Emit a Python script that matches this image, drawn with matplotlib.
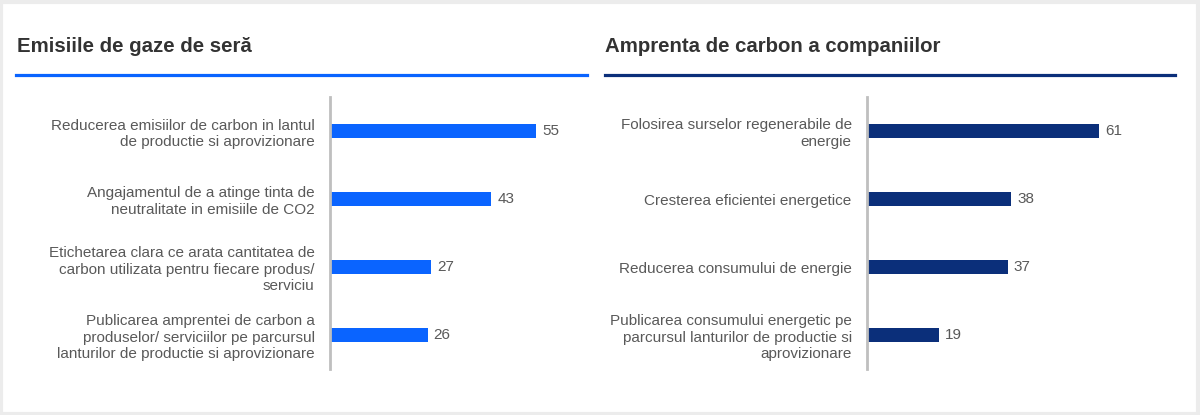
import matplotlib.pyplot as plt
from matplotlib.patches import Rectangle
from matplotlib.lines import Line2D

plt.rcParams['font.family'] = ['Liberation Sans', 'DejaVu Sans']

W, H = 1200, 415

left_title = 'Emisiile de gaze de seră'
left_labels = [
    'Reducerea emisiilor de carbon in lantul\nde productie si aprovizionare',
    'Angajamentul de a atinge tinta de\nneutralitate in emisiile de CO2',
    'Etichetarea clara ce arata cantitatea de\ncarbon utilizata pentru fiecare produs/\nserviciu',
    'Publicarea amprentei de carbon a\nproduselor/ serviciilor pe parcursul\nlanturilor de productie si aprovizionare',
]
left_values = [55, 43, 27, 26]

right_title = 'Amprenta de carbon a companiilor'
right_labels = [
    'Folosirea surselor regenerabile de\nenergie',
    'Cresterea eficientei energetice',
    'Reducerea consumului de energie',
    'Publicarea consumului energetic pe\nparcursul lanturilor de productie si\naprovizionare',
]
right_values = [61, 38, 37, 19]

left_color = '#0a64ff'
right_color = '#0b2f7a'
text_gray = '#595959'

fig = plt.figure(figsize=(W / 100, H / 100), dpi=100)
fig.patch.set_facecolor('white')

# light frame around the whole card
fig.patches.append(Rectangle((0.001, 0.003), 0.997, 0.993, transform=fig.transFigure,
                             fill=False, edgecolor='#ececec', linewidth=3))


def px(x0, y0, w, h):
    # pixel box (top-left origin) -> figure fraction
    return [x0 / W, 1 - (y0 + h) / H, w / W, h / H]


def panel(x_axis, width, scale, title, tx, line_x0, line_x1, color, labels, values):
    fig.text(tx / W, 1 - 47 / H, title, fontsize=14.7, fontweight='bold',
             color='#333333', va='center', ha='left')
    fig.add_artist(Line2D([line_x0 / W, line_x1 / W], [1 - 75 / H] * 2,
                          transform=fig.transFigure, color=color, linewidth=2.3))

    ax = fig.add_axes(px(x_axis, 97, width, 272))
    ypos = list(range(len(values)))
    ax.barh(ypos, values, height=0.21, color=color)
    ax.set_xlim(0, width / scale)
    ax.set_ylim(len(values) - 0.5, -0.5)
    ax.set_yticks(ypos)
    ax.set_yticklabels(labels, fontsize=11, color=text_gray, linespacing=1.22)
    ax.tick_params(axis='y', length=0, pad=11)
    ax.set_xticks([])
    for s in ['top', 'right', 'bottom']:
        ax.spines[s].set_visible(False)
    ax.spines['left'].set_color('#bfbfbf')
    ax.spines['left'].set_linewidth(2)
    for y, v in zip(ypos, values):
        ax.text(v + 6 / scale, y, str(v), va='center', ha='left',
                fontsize=11, color=text_gray)
    return ax


panel(330, 255, 3.75, left_title, 17, 16, 587, left_color, left_labels, left_values)
panel(867, 305, 3.8, right_title, 605, 605, 1175, right_color, right_labels, right_values)

fig.savefig('out.png', dpi=100)
